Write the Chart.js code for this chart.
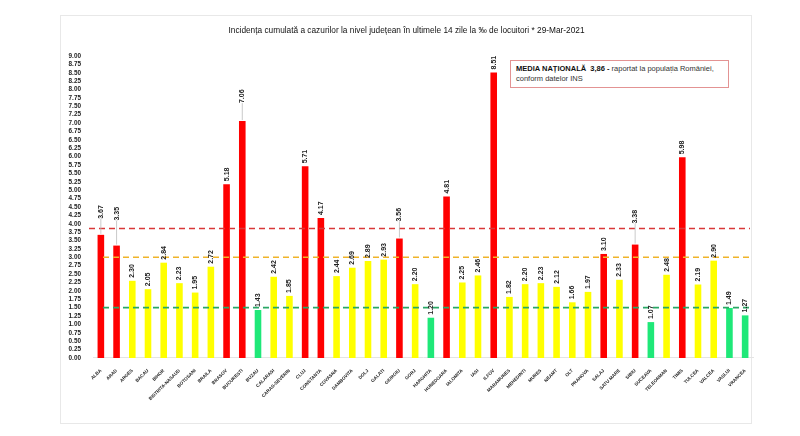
<!DOCTYPE html>
<html>
<head>
<meta charset="utf-8">
<script src="https://cdn.jsdelivr.net/npm/chart.js@4.4.1/dist/chart.umd.min.js"></script>
<style>
    html, body { margin: 0; padding: 0; background: #fff; }
    #wrap { position: relative; width: 800px; height: 436px; }
    #card {
        position: absolute; left: 60px; top: 15px; width: 690px; height: 407px;
        border: 1px solid #e8e8e8; box-sizing: content-box;
    }
    #chart { position: absolute; left: 0; top: 0; }
    #media {
        position: absolute; left: 510px; top: 60px; width: 207px; height: 20px;
        border: 1px solid #e39393; padding: 3px 5px;
        font-family: "Liberation Sans", Arial, sans-serif; font-size: 7.5px; line-height: 10px; color: #333;
        background: #fff;
    }
    #media b { color: #111; }
</style>
</head>
<body>
<div id="wrap">
    <div id="card"></div>
    <canvas id="chart" width="800" height="436"></canvas>
    <div id="media"><b>MEDIA NAȚIONALĂ&nbsp; 3,86 -</b> raportat la populația României,<br>conform datelor INS</div>
</div>
<script>
const judete = [
    'ALBA', 'ARAD', 'ARGES', 'BACAU', 'BIHOR', 'BISTRITA-NASAUD', 'BOTOSANI', 'BRAILA', 'BRASOV', 'BUCURESTI',
    'BUZAU', 'CALARASI', 'CARAS-SEVERIN', 'CLUJ', 'CONSTANTA', 'COVASNA', 'DAMBOVITA', 'DOLJ', 'GALATI', 'GIURGIU',
    'GORJ', 'HARGHITA', 'HUNEDOARA', 'IALOMITA', 'IASI', 'ILFOV', 'MARAMURES', 'MEHEDINTI', 'MURES', 'NEAMT',
    'OLT', 'PRAHOVA', 'SALAJ', 'SATU MARE', 'SIBIU', 'SUCEAVA', 'TELEORMAN', 'TIMIS', 'TULCEA', 'VALCEA',
    'VASLUI', 'VRANCEA'
];
const incidenta = [
    3.67, 3.35, 2.30, 2.05, 2.84, 2.23, 1.95, 2.72, 5.18, 7.06,
    1.43, 2.42, 1.85, 5.71, 4.17, 2.44, 2.69, 2.89, 2.93, 3.56,
    2.20, 1.20, 4.81, 2.25, 2.46, 8.51, 1.82, 2.20, 2.23, 2.12,
    1.66, 1.97, 3.10, 2.33, 3.38, 1.07, 2.48, 5.98, 2.19, 2.90,
    1.49, 1.27
];
const mediaNationala = 3.86;
const pragRosu = 3.0;
const pragVerde = 1.5;

const titlu = 'Incidența cumulată a cazurilor la nivel județean în ultimele 14 zile la ‰ de locuitori * 29-Mar-2021';

// culoarea barei dupa praguri
const culori = incidenta.map(v => v > pragRosu ? '#ff0000' : (v >= pragVerde ? '#ffff00' : '#1fe878'));

const thresholdLines = {
    id: 'thresholdLines',
    afterDatasetsDraw(chart, args, opts) {
        const { ctx, chartArea } = chart;
        const y = chart.scales.y;
        ctx.save();
        ctx.lineWidth = 1.6;
        ctx.setLineDash([6, 4]);
        opts.lines.forEach(l => {
            const py = y.getPixelForValue(l.value);
            ctx.strokeStyle = l.color;
            ctx.beginPath();
            ctx.moveTo(chartArea.left + l.start, py);
            ctx.lineTo(chartArea.right - 3, py);
            ctx.stroke();
        });
        ctx.restore();
    }
};

const valueLabels = {
    id: 'valueLabels',
    afterDatasetsDraw(chart, args, opts) {
        const { ctx } = chart;
        const meta = chart.getDatasetMeta(0);
        ctx.save();
        ctx.font = opts.font;
        ctx.fillStyle = opts.color;
        ctx.textAlign = 'left';
        ctx.textBaseline = 'middle';
        meta.data.forEach((bar, i) => {
            const lift = opts.lift[chart.data.labels[i]] || 0;
            const y0 = bar.y - 3 - lift;
            if (lift) {
                ctx.strokeStyle = '#bdbdbd';
                ctx.lineWidth = 0.8;
                ctx.beginPath();
                ctx.moveTo(bar.x, bar.y - 1);
                ctx.lineTo(bar.x, y0);
                ctx.stroke();
            }
            ctx.save();
            ctx.translate(bar.x, y0);
            ctx.rotate(-Math.PI / 2);
            ctx.fillText(chart.data.datasets[0].data[i].toFixed(2), 0, 0);
            ctx.restore();
        });
        ctx.restore();
    }
};

new Chart(document.getElementById('chart').getContext('2d'), {
    type: 'bar',
    data: {
        labels: judete,
        datasets: [{
            data: incidenta,
            backgroundColor: culori,
            borderWidth: 0,
            categoryPercentage: 1,
            barPercentage: 0.42
        }]
    },
    options: {
        responsive: false,
        animation: false,
        events: [],
        layout: {
            padding: { left: 60, right: 47, top: 24, bottom: 13 }
        },
        scales: {
            x: {
                grid: { display: false },
                border: { display: true, color: '#e4e4e4' },
                ticks: {
                    autoSkip: false,
                    minRotation: 45,
                    maxRotation: 45,
                    padding: 2,
                    color: '#222',
                    font: { family: 'Liberation Sans', size: 4.6, weight: 'bold' }
                },
                afterFit: scale => { scale.height = 65; }
            },
            y: {
                min: 0,
                max: 9,
                grid: { display: false },
                border: { display: false },
                ticks: {
                    stepSize: 0.25,
                    autoSkip: false,
                    padding: 4,
                    color: '#222',
                    font: { family: 'Liberation Sans', size: 6.4, weight: 'bold' },
                    callback: value => value.toFixed(2)
                },
                afterFit: scale => { scale.width = 33; }
            }
        },
        plugins: {
            legend: { display: false },
            tooltip: { enabled: false },
            title: {
                display: true,
                text: titlu,
                color: '#111',
                font: { family: 'Liberation Sans', size: 8.3, weight: 'normal' },
                padding: { top: 2, bottom: 20 }
            },
            thresholdLines: {
                lines: [
                    { value: mediaNationala, color: '#d93838', start: -4 },
                    { value: pragRosu, color: '#f0b429', start: 10 },
                    { value: pragVerde, color: '#2aa866', start: 10 }
                ]
            },
            valueLabels: {
                font: 'bold 7px "Liberation Sans"',
                color: '#222',
                lift: { ALBA: 13, ARAD: 22, BUCURESTI: 15, GIURGIU: 14, SIBIU: 18 }
            }
        }
    },
    plugins: [thresholdLines, valueLabels]
});
</script>
</body>
</html>
